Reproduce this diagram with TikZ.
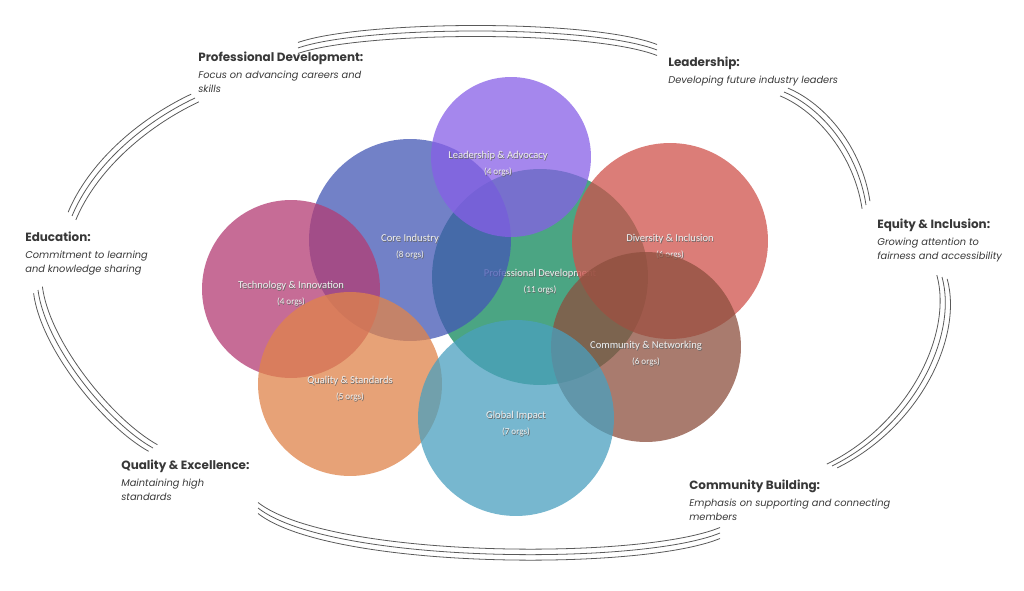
\documentclass[tikz,border=0pt]{standalone}
\usepackage{fontspec}
\setmainfont{Poppins}
\newfontfamily\orbfont{Carlito}
\usetikzlibrary{positioning}

\definecolor{leadC}{HTML}{875FE7}
\definecolor{coreC}{HTML}{4457B5}
\definecolor{profC}{HTML}{10875A}
\definecolor{divC}{HTML}{D0524B}
\definecolor{commC}{HTML}{8D4F3E}
\definecolor{techC}{HTML}{B33C74}
\definecolor{qualC}{HTML}{E0844A}
\definecolor{globC}{HTML}{4AA0BF}

\newcommand{\shadowed}[1]{\makebox[0pt][l]{\kern0.35pt\raisebox{-0.35pt}{\textcolor{black!60}{#1}}}#1}

% the six segments of the outer ring, pushed outwards by #1
\newcommand{\ringarcs}[1]{%
  \draw[ring, shift={(0,{-#1})}] (298,48) .. controls (360,26) and (590,24) .. (657,50);
  \draw[ring, shift={({0.71*#1},{-0.71*#1})}] (784,92) .. controls (822,108) and (858,152) .. (866,205);
  \draw[ring, shift={({0.94*#1},{0.34*#1})}] (942,277) .. controls (958,335) and (915,425) .. (832,466);
  \draw[ring, shift={(0,#1)}] (720,533) .. controls (640,566) and (330,564) .. (258,508);
  \draw[ring, shift={({-0.8*#1},{0.6*#1})}] (153,448) .. controls (108,423) and (45,345) .. (38,290);
  \draw[ring, shift={({-0.7*#1},{-0.7*#1})}] (72,216) .. controls (92,168) and (140,124) .. (195,98);
}

\begin{document}
\begin{tikzpicture}[
    x=0.02cm, y=-0.02cm,
    orb/.style={circle, inner sep=0pt, fill opacity=0.75},
    orbtext/.style={align=center, text=white!94!black, inner sep=0pt,
        font=\orbfont\fontsize{6}{9}\selectfont},
    theme/.style={anchor=north west, align=left, inner sep=0pt, text=black!78,
        font=\fontsize{5.6}{8}\selectfont},
    ring/.style={draw=black!65, line width=0.45pt}
]

\fill[white] (0,0) rectangle (1024,591);
\useasboundingbox (0,0) rectangle (1024,591);

% Outer ring (three thin lines)
\ringarcs{-5.5}
\ringarcs{0}
\ringarcs{5.5}

% Circles with their labels
\node[orb, fill=profC, minimum size=4.32cm] (prof) at (540,277) {};
\node[orbtext] (profText) at (540,282) {\shadowed{Professional Development}\\{\fontsize{5.2}{9}\selectfont\shadowed{(11 orgs)}}};

\node[orb, fill=coreC, minimum size=4.04cm] (core) at (410,240) {};
\node[orbtext] (coreText) at (410,247) {\shadowed{Core Industry}\\{\fontsize{5.2}{9}\selectfont\shadowed{(8 orgs)}}};

\node[orb, fill=leadC, minimum size=3.2cm] (lead) at (511,157) {};
\node[orbtext] (leadText) at (498,164) {\shadowed{Leadership \& Advocacy}\\{\fontsize{5.2}{9}\selectfont\shadowed{(4 orgs)}}};

\node[orb, fill=techC, minimum size=3.56cm] (tech) at (291,289) {};
\node[orbtext] (techText) at (291,294) {\shadowed{Technology \& Innovation}\\{\fontsize{5.2}{9}\selectfont\shadowed{(4 orgs)}}};

\node[orb, fill=divC, minimum size=3.92cm] (div) at (670,241) {};
\node[orbtext] (divText) at (670,247) {\shadowed{Diversity \& Inclusion}\\{\fontsize{5.2}{9}\selectfont\shadowed{(6 orgs)}}};

\node[orb, fill=commC, minimum size=3.8cm] (comm) at (646,347) {};
\node[orbtext] (commText) at (646,354) {\shadowed{Community \& Networking}\\{\fontsize{5.2}{9}\selectfont\shadowed{(6 orgs)}}};

\node[orb, fill=qualC, minimum size=3.68cm] (qual) at (350,384) {};
\node[orbtext] (qualText) at (350,389) {\shadowed{Quality \& Standards}\\{\fontsize{5.2}{9}\selectfont\shadowed{(5 orgs)}}};

\node[orb, fill=globC, minimum size=3.92cm] (glob) at (516,418) {};
\node[orbtext] (globText) at (516,424) {\shadowed{Global Impact}\\{\fontsize{5.2}{9}\selectfont\shadowed{(7 orgs)}}};

% Themes around the ring
\node[theme] (themeProf) at (198,52) {{\fontsize{6.8}{9}\selectfont\bfseries Professional Development:}\\[1.4pt]
    \itshape Focus on advancing careers and\\ \itshape skills};
\node[theme] (themeLead) at (668,57) {{\fontsize{6.8}{9}\selectfont\bfseries Leadership:}\\[1.4pt]
    \itshape Developing future industry leaders};
\node[theme] (themeEquity) at (877,219) {{\fontsize{6.8}{9}\selectfont\bfseries Equity \& Inclusion:}\\[1.4pt]
    \itshape Growing attention to\\ \itshape fairness and accessibility};
\node[theme] (themeEdu) at (25,232) {{\fontsize{6.8}{9}\selectfont\bfseries Education:}\\[1.4pt]
    \itshape Commitment to learning\\ \itshape and knowledge sharing};
\node[theme] (themeQual) at (121,460) {{\fontsize{6.8}{9}\selectfont\bfseries Quality \& Excellence:}\\[1.4pt]
    \itshape Maintaining high\\ \itshape standards};
\node[theme] (themeComm) at (689,480) {{\fontsize{6.8}{9}\selectfont\bfseries Community Building:}\\[1.4pt]
    \itshape Emphasis on supporting and connecting\\ \itshape members};

\end{tikzpicture}
\end{document}
